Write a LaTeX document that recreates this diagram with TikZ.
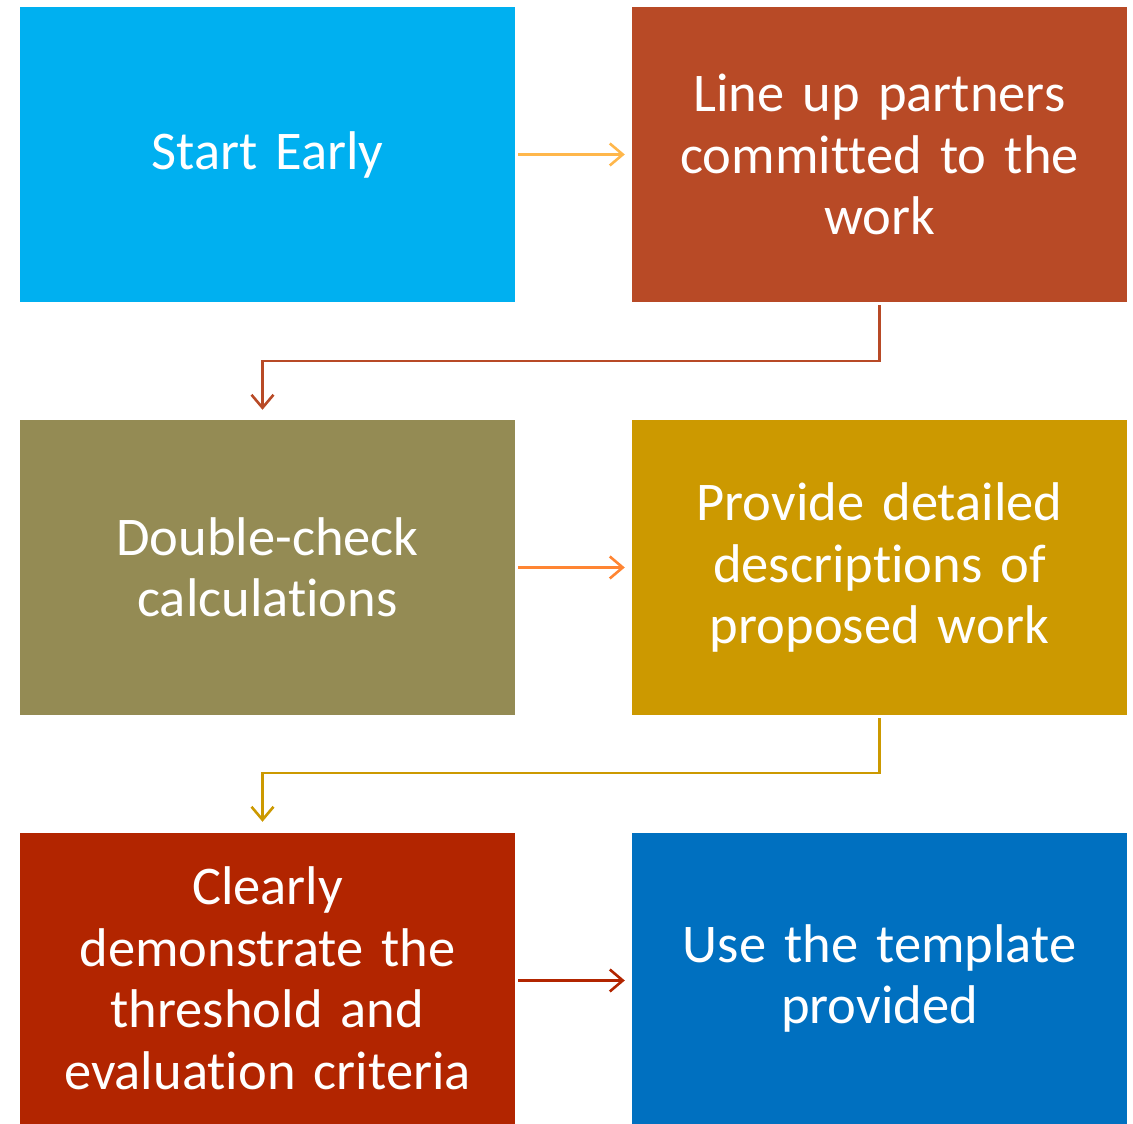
\documentclass[tikz,border=0pt]{standalone}
\usepackage{fontspec}
\setmainfont{Carlito}[Ligatures=NoCommon]
\usetikzlibrary{arrows.meta}
\definecolor{cA}{HTML}{00B0F0}
\definecolor{cB}{HTML}{B84A26}
\definecolor{cC}{HTML}{948B54}
\definecolor{cD}{HTML}{CC9900}
\definecolor{cE}{HTML}{B22500}
\definecolor{cF}{HTML}{0070C0}
\definecolor{aA}{HTML}{FFB74B}
\definecolor{aC}{HTML}{FF8533}
\tikzset{
  box/.style={draw=none, minimum width=495pt, minimum height=295pt, inner sep=0pt,
    text=white, align=center, text width=480pt,
    font=\fontsize{54.5}{61.5}\selectfont},
  conn/.style={line width=2.6pt, -{Straight Barb[length=13pt,width=22pt,line width=2.6pt]}}
}
\begin{document}
\begin{tikzpicture}[x=1pt,y=1pt]
\useasboundingbox (0,0) rectangle (1133,1124);
\node[box, fill=cA] (b1) at (267.5,969.5) {Start Early};
\node[box, fill=cB] (b2) at (879.5,969.5) {Line up partners\\committed to the\\work};
\node[box, fill=cC] (b3) at (267.5,556.5) {Double-check\\calculations};
\node[box, fill=cD] (b4) at (879.5,556.5) {Provide detailed\\descriptions of\\proposed work};
\node[box, fill=cE, minimum height=291pt] (b5) at (267.5,145.5) {Clearly\\demonstrate the\\threshold and\\evaluation criteria};
\node[box, fill=cF, minimum height=291pt] (b6) at (879.5,145.5) {\raisebox{-4pt}{\parbox{480pt}{\centering Use the template\\provided}}};
\draw[conn, aA] ([xshift=3pt]b1.east) -- ([xshift=-7pt]b2.west);
\draw[conn, aC] ([xshift=3pt]b3.east) -- ([xshift=-7pt]b4.west);
\draw[conn, cE] ([xshift=3pt,yshift=-2pt]b5.east) -- ([xshift=-7pt,yshift=-2pt]b6.west);
\coordinate (k1) at ([yshift=-59pt]b2.south);
\draw[conn, cB, line join=miter] ([yshift=-3pt]b2.south) -- (k1) -| ([xshift=-5pt,yshift=10pt]b3.north);
\coordinate (k2) at ([yshift=-58pt]b4.south);
\draw[conn, cD, line join=miter] ([yshift=-3pt]b4.south) -- (k2) -| ([xshift=-5pt,yshift=11pt]b5.north);
\end{tikzpicture}
\end{document}
